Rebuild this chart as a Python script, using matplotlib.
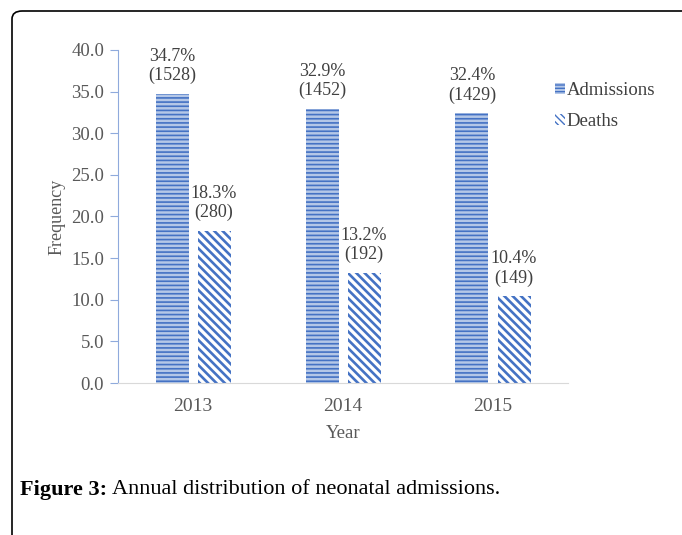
import matplotlib.pyplot as plt
import numpy as np
from matplotlib.patches import FancyBboxPatch, Patch

years = ['2013', '2014', '2015']
admissions = [34.7, 32.9, 32.4]
deaths = [18.3, 13.2, 10.4]
admission_counts = [1528, 1452, 1429]
death_counts = [280, 192, 149]

plt.rcParams['font.family'] = ['Liberation Serif', 'DejaVu Serif']

fig = plt.figure(figsize=(6.82, 5.35), dpi=100)

# page frame with rounded top-left corner
frame = FancyBboxPatch((12 / 682, -0.2), 1.2, 1 - 11 / 535 + 0.2,
                       boxstyle='round,pad=0,rounding_size=0.015',
                       transform=fig.transFigure, facecolor='none',
                       edgecolor='black', linewidth=1.2, clip_on=False)
fig.patches.append(frame)

ax = fig.add_axes([118 / 682, 1 - 383 / 535, 450 / 682, 333 / 535])

x = np.arange(len(years))
w = 0.22
blue = '#4472C4'
light = '#B4C7E7'

with plt.rc_context({'hatch.linewidth': 1.2}):
    ax.bar(x - 0.14, admissions, w, facecolor=light, edgecolor=blue,
           hatch='----', linewidth=0, label='Admissions')
with plt.rc_context({'hatch.linewidth': 1.9}):
    ax.bar(x + 0.14, deaths, w, facecolor='white', edgecolor=blue,
           hatch='\\\\\\\\', linewidth=0, label='Deaths')

for xi, v, c in zip(x - 0.14, admissions, admission_counts):
    ax.annotate(f'{v}%\n({c})', (xi, v), xytext=(0, 7), textcoords='offset points',
                ha='center', va='bottom', fontsize=13, color='#404040',
                linespacing=1.15)
for xi, v, c in zip(x + 0.14, deaths, death_counts):
    ax.annotate(f'{v}%\n({c})', (xi, v), xytext=(0, 7), textcoords='offset points',
                ha='center', va='bottom', fontsize=13, color='#404040',
                linespacing=1.15)

ax.set_xlim(-0.5, 2.5)
ax.set_ylim(0, 40)
ax.set_yticks(np.arange(0, 41, 5))
ax.set_yticklabels([f'{t:.1f}' for t in np.arange(0, 41, 5)])
ax.set_xticks(x)
ax.set_xticklabels(years)

for s in ['top', 'right']:
    ax.spines[s].set_visible(False)
ax.spines['left'].set_color('#8FAADC')
ax.spines['bottom'].set_color('#D9D9D9')
ax.tick_params(axis='y', colors='#8FAADC', labelcolor='#595959', labelsize=13.5,
               length=6, direction='out', pad=4)
ax.tick_params(axis='x', length=0, labelcolor='#595959', labelsize=14, pad=11)

ax.set_ylabel('Frequency', fontsize=13, color='#595959', labelpad=4)
ax.set_xlabel('Year', fontsize=13.5, color='#595959', labelpad=7)

with plt.rc_context({'hatch.linewidth': 1.0}):
    handles = [Patch(facecolor=light, edgecolor=blue, hatch='-----', linewidth=0),
               Patch(facecolor='white', edgecolor=blue, hatch='\\\\\\\\\\', linewidth=0)]
ax.legend(handles, ['Admissions', 'Deaths'], loc='upper left',
          bbox_to_anchor=(542 / 682, 1 - 69 / 535), bbox_transform=fig.transFigure,
          frameon=False, fontsize=13.5, handlelength=0.5, handleheight=0.5,
          handletextpad=0.1, labelspacing=0.75, labelcolor='#404040',
          borderpad=0.2)

cap1 = fig.text(20 / 682, 1 - 490 / 535, 'Figure 3:', fontsize=16, fontweight='bold',
                va='center', ha='left')
fig.canvas.draw()
bb = cap1.get_window_extent()
fig.text((bb.x1 + 5) / 682, 1 - 490 / 535, 'Annual distribution of neonatal admissions.',
         fontsize=16, va='center', ha='left')

fig.savefig('out.png', dpi=100)
